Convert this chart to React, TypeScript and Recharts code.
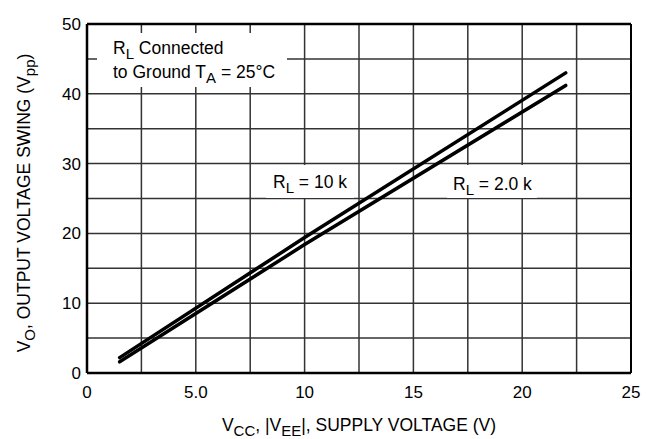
import React from 'react';
import { LineChart, Line, XAxis, YAxis, CartesianGrid, ReferenceLine } from 'recharts';

// supply voltage (V) vs output swing (Vpp)
const supply10k = [1.5, 10, 22];
const swing10k = [2.2, 19.4, 43.0];
const supply2k = [1.5, 10, 22];
const swing2k = [1.6, 18.4, 41.2];

const xTicks = [0, 2.5, 5, 7.5, 10, 12.5, 15, 17.5, 20, 22.5, 25];
const yTicks = [0, 5, 10, 15, 20, 25, 30, 35, 40, 45, 50];

const FONT = '"Liberation Sans", Arial, Helvetica, sans-serif';

const toRows = (xs: number[], ys: number[]) => xs.map((x, i) => ({ vcc: x, vo: ys[i] }));

const xLabel = (v: number) => (v === 5 ? '5.0' : v % 5 === 0 ? String(v) : '');
const yLabel = (v: number) => (v % 10 === 0 ? String(v) : '');

export default function App() {
    const tickStyle = { fill: '#000', fontSize: 17, fontFamily: FONT };
    const sub = { fontSize: 15 };

    return (
        <div style={{ position: 'absolute', left: 0, top: 0, width: 654, height: 439, background: '#fff' }}>
            <LineChart width={654} height={439} margin={{ top: 24, right: 23, left: 0, bottom: 36 }}>
                <CartesianGrid stroke="#333" strokeWidth={1.5} strokeOpacity={1} />
                <XAxis
                    type="number"
                    dataKey="vcc"
                    domain={[0, 25]}
                    ticks={xTicks}
                    tickFormatter={xLabel}
                    interval={0}
                    height={30}
                    tickLine={false}
                    tickMargin={7}
                    axisLine={{ stroke: '#000', strokeWidth: 2.5 }}
                    tick={tickStyle}
                    allowDataOverflow
                />
                <YAxis
                    type="number"
                    domain={[0, 50]}
                    ticks={yTicks}
                    tickFormatter={yLabel}
                    interval={0}
                    width={87}
                    tickLine={false}
                    tickMargin={0}
                    axisLine={{ stroke: '#000', strokeWidth: 2.5 }}
                    tick={tickStyle}
                    allowDataOverflow
                />
                <ReferenceLine y={50} stroke="#000" strokeWidth={2.5} />
                <ReferenceLine x={25} stroke="#000" strokeWidth={2} />

                {/* white boxes behind the labels hide the grid */}
                <g fontFamily={FONT} fontSize={17.5} fill="#000">
                    <rect x={97} y={33} width={190} height={54} fill="#fff" />
                    <text x={113} y={54}>
                        R<tspan {...sub} dy={5}>L</tspan>
                        <tspan dy={-5}> Connected</tspan>
                    </text>
                    <text x={113} y={78}>
                        to Ground T<tspan {...sub} dy={5}>A</tspan>
                        <tspan dy={-5}> = 25°C</tspan>
                    </text>

                    <rect x={266} y={165} width={88} height={33} fill="#fff" />
                    <text x={273} y={188}>
                        R<tspan {...sub} dy={5}>L</tspan>
                        <tspan dy={-5}> = 10 k</tspan>
                    </text>

                    <rect x={447} y={165} width={90} height={33} fill="#fff" />
                    <text x={453} y={190}>
                        R<tspan {...sub} dy={5}>L</tspan>
                        <tspan dy={-5}> = 2.0 k</tspan>
                    </text>

                    <text x={359} y={431} textAnchor="middle">
                        V<tspan {...sub} dy={5}>CC</tspan>
                        <tspan dy={-5}>, |V</tspan>
                        <tspan {...sub} dy={5}>EE</tspan>
                        <tspan dy={-5}>|, SUPPLY VOLTAGE (V)</tspan>
                    </text>
                    <text transform="translate(30,203) rotate(-90)" textAnchor="middle">
                        V<tspan {...sub} dy={5}>O</tspan>
                        <tspan dy={-5}>, OUTPUT VOLTAGE SWING (V</tspan>
                        <tspan {...sub} dy={5}>pp</tspan>
                        <tspan dy={-5}>)</tspan>
                    </text>
                </g>

                <Line
                    data={toRows(supply10k, swing10k)}
                    dataKey="vo"
                    stroke="#000"
                    strokeWidth={3.5}
                    strokeLinecap="round"
                    dot={false}
                    type="linear"
                    isAnimationActive={false}
                />
                <Line
                    data={toRows(supply2k, swing2k)}
                    dataKey="vo"
                    stroke="#000"
                    strokeWidth={3.5}
                    strokeLinecap="round"
                    dot={false}
                    type="linear"
                    isAnimationActive={false}
                />
            </LineChart>
        </div>
    );
}
